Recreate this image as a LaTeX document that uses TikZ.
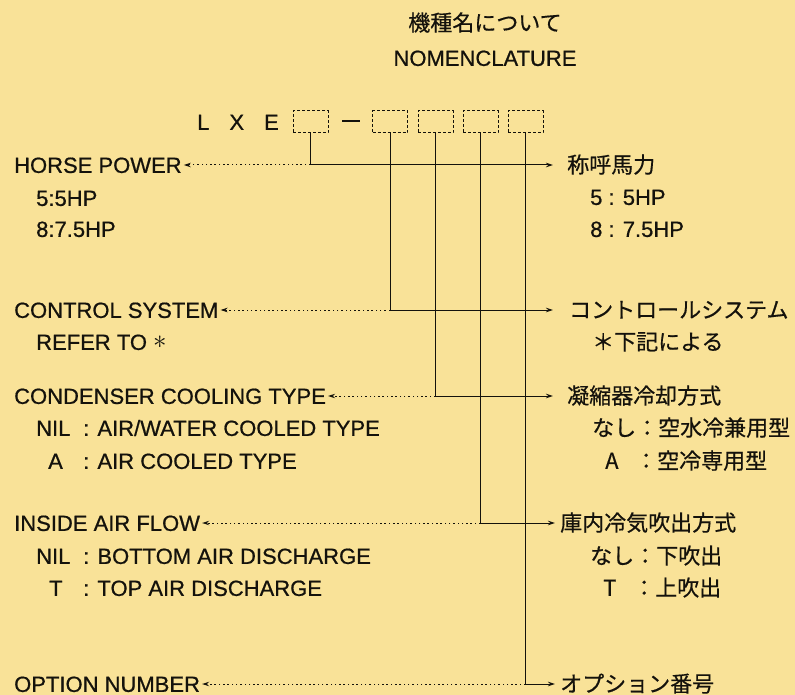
\documentclass[tikz,border=0pt]{standalone}
\usepackage{fontspec}
\setmainfont{Liberation Sans}[FakeBold=0.7]
\newfontfamily\cjk{Noto Sans CJK JP}[FakeBold=0.5]
\usetikzlibrary{arrows.meta}
\definecolor{bg}{RGB}{249,226,152}
\definecolor{ink}{RGB}{20,18,12}
\begin{document}
\begin{tikzpicture}[x=1pt,y=-1pt,
  txt/.style={anchor=west,inner sep=0pt,text height=15.8pt,text depth=0pt,text=ink,font=\fontsize{22}{26}\selectfont},
  jtxt/.style={txt,font=\fontsize{22}{26}\selectfont\cjk},
  dbox/.style={draw=ink,dash pattern=on 3pt off 2pt,line width=1pt,minimum width=35pt,minimum height=22pt,inner sep=0pt},
  sline/.style={draw=ink,line width=1pt},
  arr/.style={-{Stealth[length=7pt,width=4.5pt]}},
  dline/.style={draw=ink,line width=1pt,dash pattern=on 1.5pt off 2.8pt}
]
\fill[bg] (0,0) rectangle (795,695);
\useasboundingbox (0,0) rectangle (795,695);

% title
\node[jtxt,anchor=center] (t1) at (485,23) {機種名について};
\node[txt,anchor=center] (t2) at (485,58) {NOMENCLATURE};

% model code
\node[txt] (lxe) at (197,122) {L\hspace{20pt}X\hspace{20pt}E};
\node[dbox] (b1) at (310.5,122) {};
\node[inner sep=0pt,text=ink] (dash) at (351,121) {\rule{18pt}{1.5pt}};
\node[dbox] (b2) at (390,122) {};
\node[dbox] (b3) at (435.5,122) {};
\node[dbox] (b4) at (480.5,122) {};
\node[dbox] (b5) at (525.5,122) {};

% left texts
\node[txt] (hp) at (14,165) {HORSE POWER};
\node[txt] (hp1) at (36,198) {5:5HP};
\node[txt] (hp2) at (36,229) {8:7.5HP};
\node[txt] (cs) at (14,310) {CONTROL SYSTEM};
\node[txt] (cs1) at (36,342) {REFER TO \raisebox{1.5pt}{\scalebox{1.3}{$\ast$}}};
\node[txt] (cc) at (14,396) {CONDENSER COOLING TYPE};
\node[txt] (cc1) at (36,428) {\makebox[47pt][l]{NIL}: AIR/WATER COOLED TYPE};
\node[txt] (cc2) at (36,461) {\makebox[47pt][l]{\hspace{12pt}A}: AIR COOLED TYPE};
\node[txt] (ia) at (14,523) {INSIDE AIR FLOW};
\node[txt] (ia1) at (36,556) {\makebox[47pt][l]{NIL}: BOTTOM AIR DISCHARGE};
\node[txt] (ia2) at (36,588) {\makebox[47pt][l]{\hspace{13pt}T}: TOP AIR DISCHARGE};
\node[txt] (op) at (14,684) {OPTION NUMBER};

% right texts
\node[jtxt] (jhp) at (567,165) {称呼馬力};
\node[txt] (jhp1) at (590,197) {5 : 5HP};
\node[txt] (jhp2) at (590,229) {8 : 7.5HP};
\node[jtxt] (jcs) at (569,310) {コントロールシステム};
\node[jtxt] (jcs1) at (592,342) {＊下記による};
\node[jtxt] (jcc) at (567,396) {凝縮器冷却方式};
\node[jtxt] (jcc1) at (592,428) {なし：空水冷兼用型};
\node[jtxt] (jcc2) at (592,461) {\makebox[43pt][l]{\hspace{13pt}A}：空冷専用型};
\node[jtxt] (jia) at (560,523) {庫内冷気吹出方式};
\node[jtxt] (jia1) at (590,556) {なし：下吹出};
\node[jtxt] (jia2) at (590,588) {\makebox[43pt][l]{\hspace{13pt}T}：上吹出};
\node[jtxt] (jop) at (560,684) {オプション番号};

% corners
\coordinate (c1) at (b1.south |- jhp.west);
\coordinate (c2) at (b2.south |- jcs.west);
\coordinate (c3) at (b3.south |- jcc.west);
\coordinate (c4) at (b4.south |- jia.west);
\coordinate (c5) at (b5.south |- jop.west);

% solid connectors
\draw[sline,arr,shorten >=14pt] (b1.south) -- (c1) -- (jhp.west);
\draw[sline,arr,shorten >=16pt] (b2.south) -- (c2) -- (jcs.west);
\draw[sline,arr,shorten >=14pt] (b3.south) -- (c3) -- (jcc.west);
\draw[sline,arr,shorten >=5pt] (b4.south) -- (c4) -- (jia.west);
\draw[sline,arr,shorten >=5pt] (b5.south) -- (c5) -- (jop.west);

% dotted connectors
\draw[dline,arr,shorten >=2pt] (c1) -- (hp.east);
\draw[dline,arr,shorten >=2pt] (c2) -- (cs.east);
\draw[dline,arr,shorten >=2pt] (c3) -- (cc.east);
\draw[dline,arr,shorten >=2pt] (c4) -- (ia.east);
\draw[dline,arr,shorten >=2pt] (c5) -- (op.east);
\end{tikzpicture}
\end{document}
